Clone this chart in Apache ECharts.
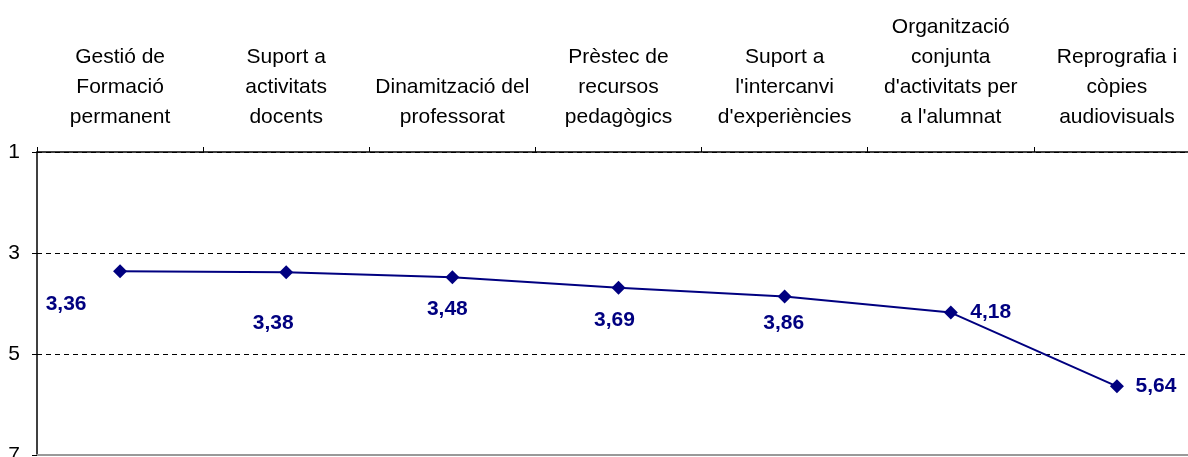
<!DOCTYPE html>
<html>
<head>
<meta charset="utf-8">
<script src="https://cdn.jsdelivr.net/npm/echarts@6/dist/echarts.min.js"></script>
<style>
html,body{margin:0;padding:0;background:#fff;}
#chart{width:1188px;height:457px;}
</style>
</head>
<body>
<div id="chart"></div>
<script>
var categories = [
    'Gestió de\nFormació\npermanent',
    'Suport a\nactivitats\ndocents',
    'Dinamització del\nprofessorat',
    'Prèstec de\nrecursos\npedagògics',
    'Suport a\nl\'intercanvi\nd\'experiències',
    'Organització\nconjunta\nd\'activitats per\na l\'alumnat',
    'Reprografia i\ncòpies\naudiovisuals'
];
var values = [3.36, 3.38, 3.48, 3.69, 3.86, 4.18, 5.64];
var yTicks = [1, 3, 5, 7];

// where Excel left each value label, relative to its point
var labelOffsets = [[-54, 33], [-13, 51], [-5, 32], [-4, 32], [-1, 27], [40, 0], [39, 0]];

var chart = echarts.init(document.getElementById('chart'));

var points = values.map(function (v, i) {
    return {
        value: v,
        label: { offset: labelOffsets[i] }
    };
});

var font = 'Liberation Sans, Arial, sans-serif';

chart.setOption({
    animation: false,
    grid: { left: 37, top: 152, right: -12, bottom: 2, outerBoundsMode: 'none', containLabel: false },
    xAxis: [
        {
            type: 'category',
            position: 'top',
            data: categories,
            boundaryGap: true,
            axisLine: { lineStyle: { color: '#000', width: 1.5 } },
            axisTick: { show: true, length: 5, lineStyle: { color: '#000' } },
            axisLabel: {
                interval: 0,
                color: '#000',
                fontFamily: font,
                fontSize: 21,
                lineHeight: 30,
                margin: 20,
                align: 'center'
            },
            splitLine: { show: false }
        },
        {
            type: 'category',
            position: 'bottom',
            data: categories,
            axisLine: { lineStyle: { color: '#999', width: 2 } },
            axisTick: { show: false },
            axisLabel: { show: false }
        }
    ],
    yAxis: {
        type: 'value',
        inverse: true,
        min: yTicks[0],
        max: yTicks[yTicks.length - 1],
        interval: 2,
        axisLine: { show: true, lineStyle: { color: '#000', width: 1.5 } },
        axisTick: { show: true, length: 5, lineStyle: { color: '#000' } },
        axisLabel: {
            color: '#000',
            fontFamily: font,
            fontSize: 21,
            margin: 17,
            formatter: function (v) { return yTicks.indexOf(v) >= 0 ? String(v) : ''; }
        },
        splitLine: {
            show: true,
            lineStyle: { color: '#000', type: [5, 4], width: 1 }
        }
    },
    series: [{
        type: 'line',
        data: points,
        symbol: 'diamond',
        symbolSize: 14,
        itemStyle: { color: '#000080' },
        lineStyle: { color: '#000080', width: 2 },
        label: {
            show: true,
            position: 'inside',
            color: '#000080',
            fontWeight: 'bold',
            fontFamily: font,
            fontSize: 21,
            formatter: function (p) { return p.value.toFixed(2).replace('.', ','); }
        }
    }]
});
</script>
</body>
</html>
